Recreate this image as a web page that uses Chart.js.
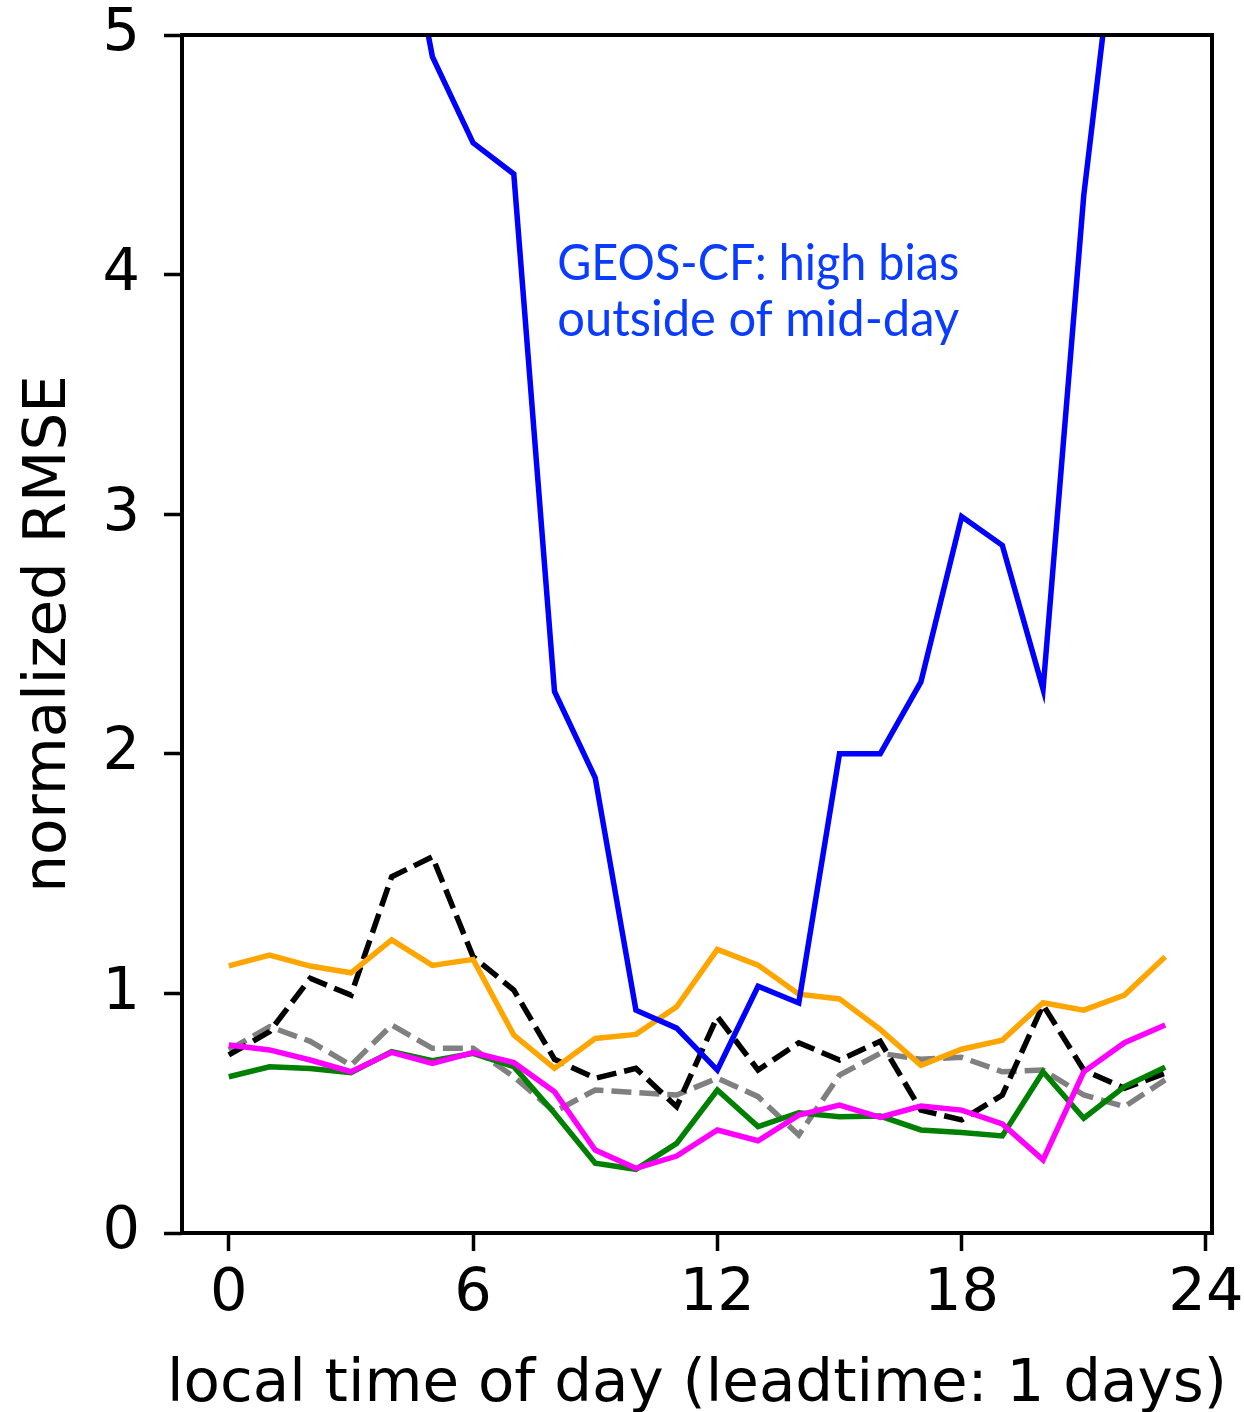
<!DOCTYPE html>
<html>
<head>
<meta charset="utf-8">
<script src="https://cdn.jsdelivr.net/npm/chart.js@4.4.1/dist/chart.umd.min.js"></script>
<style>
  html, body { margin: 0; padding: 0; background: #ffffff; }
  #wrap { width: 1244px; height: 1412px; position: relative; }
</style>
</head>
<body>
<div id="wrap"><canvas id="c"></canvas></div>
<script>
// ---- data ----
const hours = [0,1,2,3,4,5,6,7,8,9,10,11,12,13,14,15,16,17,18,19,20,21,22,23];
const geosCF   = [8.4, 7.6, 6.9, 6.3, 5.8, 4.91, 4.55, 4.42, 2.26, 1.90, 0.93, 0.855, 0.68, 1.03, 0.96, 2.00, 2.00, 2.30, 2.99, 2.87, 2.27, 4.33, 5.76, 7.0];
const orangeS  = [1.115, 1.16, 1.114, 1.086, 1.223, 1.117, 1.142, 0.826, 0.687, 0.812, 0.829, 0.944, 1.184, 1.118, 0.997, 0.977, 0.85, 0.70, 0.767, 0.805, 0.961, 0.93, 0.993, 1.153];
const magentaS = [0.785, 0.764, 0.722, 0.673, 0.754, 0.708, 0.753, 0.711, 0.59, 0.346, 0.27, 0.321, 0.43, 0.385, 0.492, 0.534, 0.483, 0.53, 0.513, 0.455, 0.305, 0.673, 0.794, 0.868];
const greenS   = [0.652, 0.694, 0.687, 0.669, 0.757, 0.719, 0.75, 0.694, 0.50, 0.291, 0.266, 0.374, 0.597, 0.444, 0.502, 0.485, 0.488, 0.43, 0.419, 0.405, 0.673, 0.479, 0.611, 0.692];
const grayS    = [0.764, 0.861, 0.80, 0.70, 0.868, 0.771, 0.771, 0.652, 0.506, 0.597, 0.586, 0.576, 0.646, 0.569, 0.409, 0.659, 0.75, 0.725, 0.733, 0.673, 0.68, 0.576, 0.527, 0.639];
const blackS   = [0.743, 0.84, 1.063, 0.993, 1.487, 1.57, 1.153, 1.014, 0.725, 0.646, 0.687, 0.527, 0.903, 0.68, 0.794, 0.722, 0.80, 0.513, 0.472, 0.576, 0.952, 0.68, 0.604, 0.667];
const xTicks = [0, 6, 12, 18, 24];
const yTicks = [0, 1, 2, 3, 4, 5];
const xTitle = 'local time of day (leadtime: 1 days)';
const yTitle = 'normalized RMSE';
const noteLines = ['GEOS-CF: high bias', 'outside of mid-day'];
const noteAnchor = { x: 8.065, y1: 3.977, y2: 3.744 };

const pts = arr => hours.map((h, i) => ({ x: h, y: arr[i] }));
const LW = 5.5;
const mk = (data, color, dash) => ({
  data: pts(data), borderColor: color, borderWidth: LW, pointRadius: 0,
  fill: false, tension: 0, borderDash: dash || [], clip: 0,
  borderJoinStyle: 'miter', borderCapStyle: 'butt'
});

const tickFont = { family: 'DejaVu Sans', size: 59 };
const titleFont = { family: 'DejaVu Sans', size: 59.5 };

const framePlugin = {
  id: 'frame',
  afterDatasetsDraw(chart) {
    const { ctx, chartArea: a, scales } = chart;
    ctx.save();
    // annotation text
    ctx.fillStyle = '#0a3cff';
    ctx.font = '51px Lato';
    ctx.textBaseline = 'alphabetic';
    ctx.textAlign = 'left';
    const x0 = scales.x.getPixelForValue(noteAnchor.x);
    const ys = [scales.y.getPixelForValue(noteAnchor.y1), scales.y.getPixelForValue(noteAnchor.y2)];
    noteLines.forEach((t, i) => {
      const w = ctx.measureText(t).width;
      const sx = 402 / w;
      ctx.save();
      ctx.translate(x0, ys[i]);
      ctx.scale(sx, 1);
      ctx.fillText(t, 0, 0);
      ctx.restore();
    });
    // frame
    ctx.strokeStyle = '#000';
    ctx.lineWidth = 4;
    ctx.strokeRect(a.left, a.top, a.right - a.left, a.bottom - a.top);
    // x axis title (drawn here so it is not squeezed to the axis width)
    ctx.fillStyle = '#000';
    ctx.font = titleFont.size + 'px "' + titleFont.family + '"';
    ctx.textAlign = 'center';
    ctx.textBaseline = 'alphabetic';
    ctx.fillText(xTitle, (a.left + a.right) / 2, 1401);
    ctx.restore();
  }
};

new Chart(document.getElementById('c'), {
  type: 'line',
  data: {
    datasets: [
      mk(geosCF, '#0000ff'),
      mk(orangeS, '#ffa500'),
      mk(magentaS, '#ff00ff'),
      mk(greenS, '#008000'),
      mk(blackS, '#000000', [20, 8]),
      mk(grayS, '#808080', [20, 8])
    ]
  },
  options: {
    responsive: true,
    maintainAspectRatio: false,
    animation: false,
    devicePixelRatio: 1,
    layout: { padding: { top: 35, right: 32, left: 0, bottom: 0 } },
    plugins: { legend: { display: false }, tooltip: { enabled: false } },
    scales: {
      x: {
        type: 'linear', min: -1.15, max: 24.15,
        afterBuildTicks: s => { s.ticks = xTicks.map(v => ({ value: v })); },
        afterFit: s => { s.height = 1412 - 1233; s.paddingLeft = 0; s.paddingRight = 0; },
        border: { display: false },
        grid: { drawOnChartArea: false, drawTicks: true, tickLength: 18, tickWidth: 3.5, tickColor: '#000' },
        ticks: { color: '#000', font: tickFont, padding: 8, maxRotation: 0, autoSkip: false },
        title: { display: false, text: xTitle }
      },
      y: {
        type: 'linear', min: 0, max: 5,
        afterBuildTicks: s => { s.ticks = yTicks.map(v => ({ value: v })); },
        afterFit: s => { s.width = 182; s.paddingTop = 0; s.paddingBottom = 0; },
        border: { display: false },
        grid: { drawOnChartArea: false, drawTicks: true, tickLength: 18, tickWidth: 3.5, tickColor: '#000' },
        ticks: { color: '#000', font: tickFont, padding: 24 },
        title: { display: true, text: yTitle, color: '#000', font: titleFont, padding: { top: 14, bottom: 0 } }
      }
    }
  },
  plugins: [framePlugin]
});
</script>
</body>
</html>
